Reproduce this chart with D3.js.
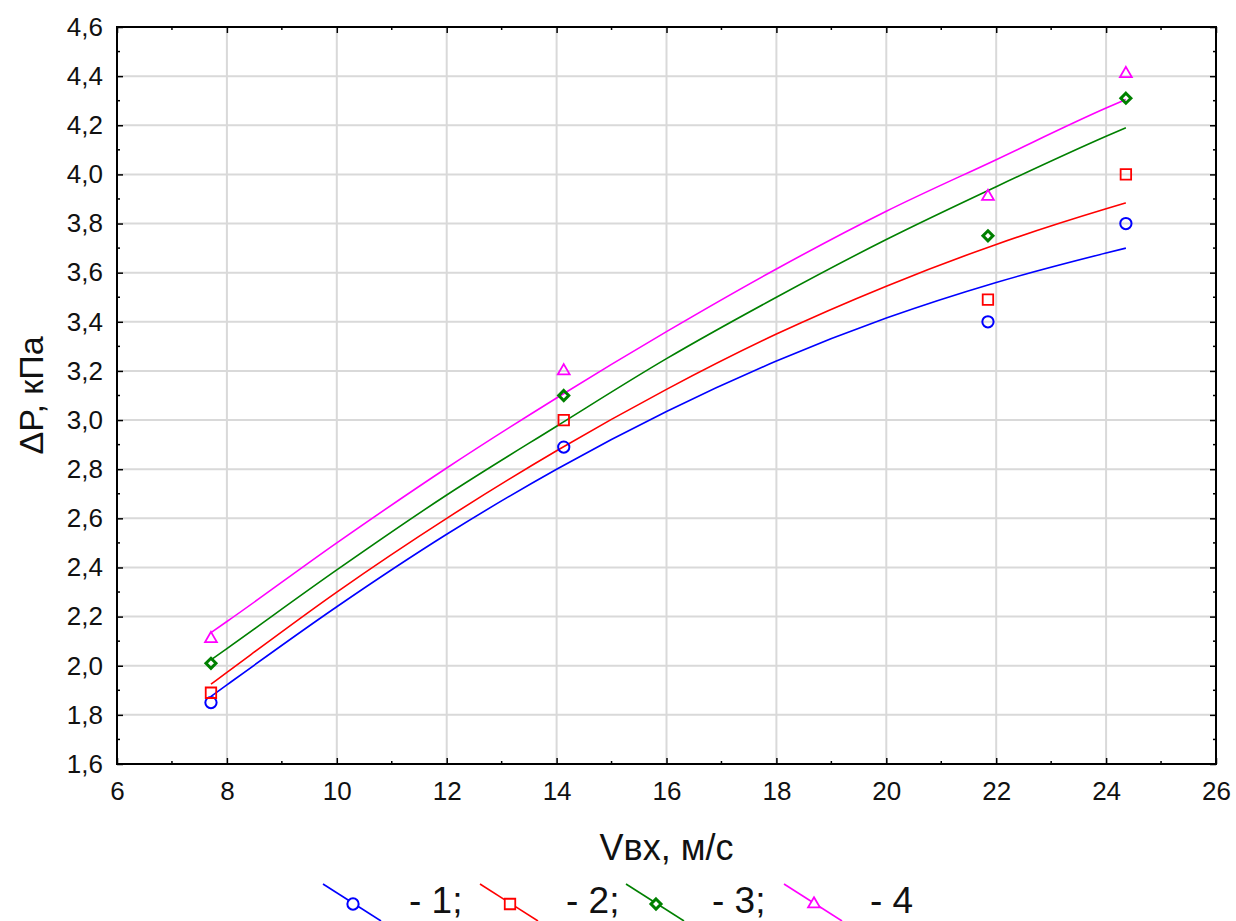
<!DOCTYPE html>
<html>
<head>
<meta charset="utf-8">
<script src="https://d3js.org/d3.v7.min.js"></script>
<title>dP vs Vvx</title>
<style>
  body { margin: 0; background: #fff; }
  svg { display: block; }
  text { font-family: "Liberation Sans", Arial, sans-serif; fill: #111; }
</style>
</head>
<body>
<div id="chart"></div>
<script>
// measured points (Vвх, м/с)
var vx = [7.71, 14.13, 21.85, 24.36];
var dp1 = [1.85, 2.89, 3.40, 3.80];
var dp2 = [1.89, 3.00, 3.49, 4.00];
var dp3 = [2.01, 3.10, 3.75, 4.31];
var dp4 = [2.11, 3.20, 3.91, 4.41];

// fitted curves
var fitX = [7.71, 8, 10, 12, 14, 16, 18, 20, 22, 24, 24.36];
var fit1 = [1.875, 1.922, 2.24, 2.535, 2.80, 3.035, 3.24, 3.415, 3.56, 3.68, 3.70];
var fit2 = [1.925, 1.973, 2.30, 2.60, 2.875, 3.125, 3.35, 3.545, 3.715, 3.86, 3.884];
var fit3 = [2.024, 2.07, 2.39, 2.695, 2.975, 3.25, 3.50, 3.735, 3.95, 4.155, 4.19];
var fit4 = [2.135, 2.18, 2.50, 2.805, 3.09, 3.36, 3.615, 3.85, 4.06, 4.27, 4.305];

var xTicks = [6, 8, 10, 12, 14, 16, 18, 20, 22, 24, 26];
var yTicks = [1.6, 1.8, 2.0, 2.2, 2.4, 2.6, 2.8, 3.0, 3.2, 3.4, 3.6, 3.8, 4.0, 4.2, 4.4, 4.6];
var seriesNames = ["- 1;", "- 2;", "- 3;", "- 4"];
var colors = ["#0000ff", "#ff0000", "#008000", "#ff00ff"];
var symbols = [d3.symbolCircle, d3.symbolSquare, d3.symbolDiamond2, d3.symbolTriangle2];

var series = [
  {pts: dp1, fit: fit1},
  {pts: dp2, fit: fit2},
  {pts: dp3, fit: fit3},
  {pts: dp4, fit: fit4}
];

var W = 1236, H = 921;
// plot box (window.top is reserved, so prefixed names)
var pLeft = 117, pRight = 1216, pTop = 27, pBottom = 764;

var svg = d3.select("#chart").append("svg").attr("width", W).attr("height", H);

var x = d3.scaleLinear().domain([6, 26]).range([pLeft, pRight]);
var y = d3.scaleLinear().domain([1.6, 4.6]).range([pBottom, pTop]);

var fmt = function(d) { return d3.format(".1f")(d).replace(".", ","); };

// grid
svg.append("g").selectAll("line").data(xTicks.slice(1, -1)).enter().append("line")
  .attr("x1", d => x(d)).attr("x2", d => x(d)).attr("y1", pTop).attr("y2", pBottom)
  .attr("stroke", "#d9d9d9").attr("stroke-width", 2);
svg.append("g").selectAll("line").data(yTicks.slice(1, -1)).enter().append("line")
  .attr("y1", d => y(d)).attr("y2", d => y(d)).attr("x1", pLeft).attr("x2", pRight)
  .attr("stroke", "#d9d9d9").attr("stroke-width", 2);

// minor ticks at midpoints
var xMinor = d3.range(7, 26, 2);
var yMinor = d3.range(1.7, 4.6, 0.2);

// axes with inward ticks
function styleAxis(g) {
  g.select(".domain").remove();
  g.selectAll(".tick line").attr("stroke", "#000").attr("stroke-width", 1.5);
}
var xAxisB = d3.axisBottom(x).tickValues(xTicks).tickSize(-6).tickPadding(18).tickFormat(d3.format("d"));
var xAxisT = d3.axisTop(x).tickValues(xTicks).tickSize(-6).tickFormat("");
var yAxisL = d3.axisLeft(y).tickValues(yTicks).tickSize(-6).tickPadding(14).tickFormat(fmt);
var yAxisR = d3.axisRight(y).tickValues(yTicks).tickSize(-6).tickFormat("");

svg.append("g").attr("transform", "translate(0," + pBottom + ")").call(xAxisB).call(styleAxis)
  .selectAll("text").attr("font-size", 26).attr("fill", "#111")
  .attr("font-family", "Liberation Sans, Arial, sans-serif");
svg.append("g").attr("transform", "translate(0," + pTop + ")").call(xAxisT).call(styleAxis);
svg.append("g").attr("transform", "translate(" + pLeft + ",0)").call(yAxisL).call(styleAxis)
  .selectAll("text").attr("font-size", 26).attr("fill", "#111")
  .attr("font-family", "Liberation Sans, Arial, sans-serif");
svg.append("g").attr("transform", "translate(" + pRight + ",0)").call(yAxisR).call(styleAxis);

// minor ticks
var mt = svg.append("g").attr("stroke", "#000").attr("stroke-width", 1.5);
xMinor.forEach(function(v) {
  mt.append("line").attr("x1", x(v)).attr("x2", x(v)).attr("y1", pBottom).attr("y2", pBottom - 3);
  mt.append("line").attr("x1", x(v)).attr("x2", x(v)).attr("y1", pTop).attr("y2", pTop + 3);
});
yMinor.forEach(function(v) {
  mt.append("line").attr("y1", y(v)).attr("y2", y(v)).attr("x1", pLeft).attr("x2", pLeft + 3);
  mt.append("line").attr("y1", y(v)).attr("y2", y(v)).attr("x1", pRight).attr("x2", pRight - 3);
});

// frame
svg.append("rect").attr("x", pLeft).attr("y", pTop)
  .attr("width", pRight - pLeft).attr("height", pBottom - pTop)
  .attr("fill", "none").attr("stroke", "#000").attr("stroke-width", 2);

// fitted lines
var line = d3.line().x(d => x(d[0])).y(d => y(d[1])).curve(d3.curveMonotoneX);
series.forEach(function(s, i) {
  svg.append("path")
    .datum(fitX.map((v, j) => [v, s.fit[j]]))
    .attr("d", line)
    .attr("fill", "none")
    .attr("stroke", colors[i])
    .attr("stroke-width", 1.6);
});

// markers
var symSizes = [100, 110, 64, 100];
var symStroke = [2, 1.8, 3, 1.8];
series.forEach(function(s, i) {
  svg.append("g").selectAll("path").data(vx).enter().append("path")
    .attr("d", d3.symbol().type(symbols[i]).size(symSizes[i]))
    .attr("transform", (d, j) => "translate(" + x(d) + "," + y(s.pts[j]) + ")")
    .attr("fill", "none")
    .attr("stroke", colors[i])
    .attr("stroke-width", symStroke[i]);
});

// axis titles
svg.append("text")
  .attr("x", (pLeft + pRight) / 2).attr("y", 860)
  .attr("text-anchor", "middle").attr("font-size", 36)
  .text("Vвх, м/с");

svg.append("text")
  .attr("transform", "translate(43," + ((pTop + pBottom) / 2) + ") rotate(-90)")
  .attr("text-anchor", "middle").attr("font-size", 34)
  .text("ΔP, кПа");

// legend
var legX = [353, 510, 656, 814];
var legY = 904;
seriesNames.forEach(function(name, i) {
  var g = svg.append("g");
  g.append("line")
    .attr("x1", legX[i] - 30).attr("y1", legY - 20)
    .attr("x2", legX[i] + 28).attr("y2", legY + 17)
    .attr("stroke", colors[i]).attr("stroke-width", 1.6);
  g.append("path")
    .attr("d", d3.symbol().type(symbols[i]).size(symSizes[i]))
    .attr("transform", "translate(" + legX[i] + "," + legY + ")")
    .attr("fill", "#fff")
    .attr("stroke", colors[i])
    .attr("stroke-width", symStroke[i]);
  g.append("text")
    .attr("x", legX[i] + 56).attr("y", 913)
    .attr("font-size", 37)
    .text(name);
});
</script>
</body>
</html>
